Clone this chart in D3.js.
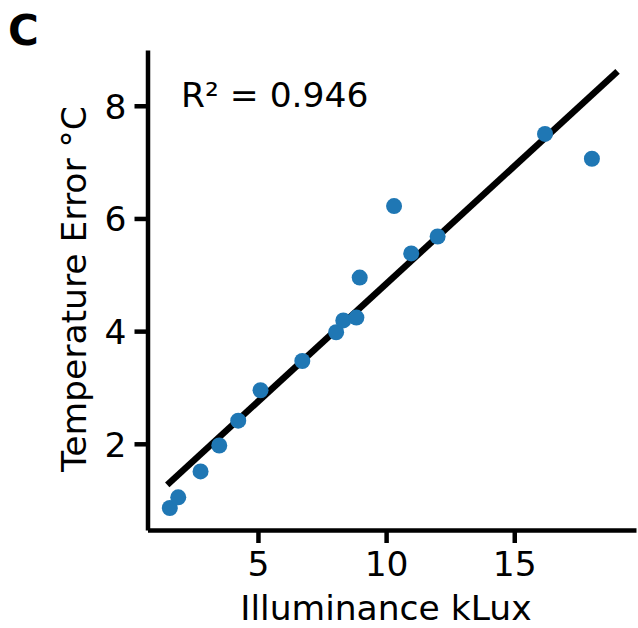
<!DOCTYPE html>
<html>
<head>
<meta charset="utf-8">
<script src="https://cdn.jsdelivr.net/npm/d3@7"></script>
<style>
    body { margin: 0; background: #fff; }
    svg { display: block; font-family: "DejaVu Sans", sans-serif; }
</style>
</head>
<body>
<svg id="chart" width="638" height="628"></svg>
<script>
// illuminance (kLux) vs temperature error (degC)
const illuminance = [1.56, 1.89, 2.76, 3.49, 4.23, 5.10, 6.73, 8.05, 8.33, 8.84, 8.97, 10.31, 10.98, 12.01, 16.20, 18.03];
const tempError   = [0.86, 1.05, 1.51, 1.97, 2.41, 2.95, 3.47, 3.98, 4.19, 4.24, 4.95, 6.22, 5.38, 5.68, 7.50, 7.06];

// fitted regression line end points
const fitX = [1.46, 19.03];
const fitY = [1.27, 8.61];

const xTicks = [5, 10, 15];
const yTicks = [2, 4, 6, 8];
const rSquared = "0.946";

const svg = d3.select('#chart');

const x = d3.scaleLinear().domain([0.69, 19.75]).range([147.5, 636]);
const y = d3.scaleLinear().domain([0.47, 8.99]).range([530, 50]);

const fontSize = 34.5;
const axisColor = '#000';

// x axis
const gx = svg.append('g')
    .attr('transform', 'translate(0,530)')
    .call(d3.axisBottom(x).tickValues(xTicks).tickSize(13).tickSizeOuter(0).tickPadding(8));

// y axis
const gy = svg.append('g')
    .attr('transform', 'translate(147.5,0)')
    .call(d3.axisLeft(y).tickValues(yTicks).tickSize(13).tickSizeOuter(0).tickPadding(8));

[gx, gy].forEach(g => {
    g.select('.domain').attr('stroke', axisColor).attr('stroke-width', 4.5);
    g.selectAll('.tick line').attr('stroke', axisColor).attr('stroke-width', 4.5);
    g.selectAll('.tick text')
        .attr('fill', '#000')
        .style('font-size', fontSize + 'px')
        .style('font-family', '"DejaVu Sans", sans-serif');
});
gy.selectAll('.tick text').attr('dy', '0.36em');
gx.selectAll('.tick text').attr('dy', '0.72em');

// regression line
svg.append('line')
    .attr('x1', x(fitX[0]))
    .attr('y1', y(fitY[0]))
    .attr('x2', x(fitX[1]))
    .attr('y2', y(fitY[1]))
    .attr('stroke', '#000')
    .attr('stroke-width', 6.5);

// points
svg.append('g')
    .selectAll('circle')
    .data(illuminance)
    .enter()
    .append('circle')
    .attr('cx', d => x(d))
    .attr('cy', (d, i) => y(tempError[i]))
    .attr('r', 8)
    .attr('fill', '#1f77b4');

// axis labels
svg.append('text')
    .attr('x', 386)
    .attr('y', 620)
    .attr('text-anchor', 'middle')
    .style('font-size', fontSize + 'px')
    .text('Illuminance kLux');

svg.append('text')
    .attr('transform', 'translate(86,289) rotate(-90)')
    .attr('text-anchor', 'middle')
    .style('font-size', fontSize + 'px')
    .text('Temperature Error °C');

// annotation
svg.append('text')
    .attr('x', 181)
    .attr('y', 107)
    .style('font-size', fontSize + 'px')
    .text('R² = ' + rSquared);

// panel letter
svg.append('text')
    .attr('x', 8)
    .attr('y', 45)
    .style('font-size', '42px')
    .style('font-weight', 'bold')
    .text('C');
</script>
</body>
</html>
